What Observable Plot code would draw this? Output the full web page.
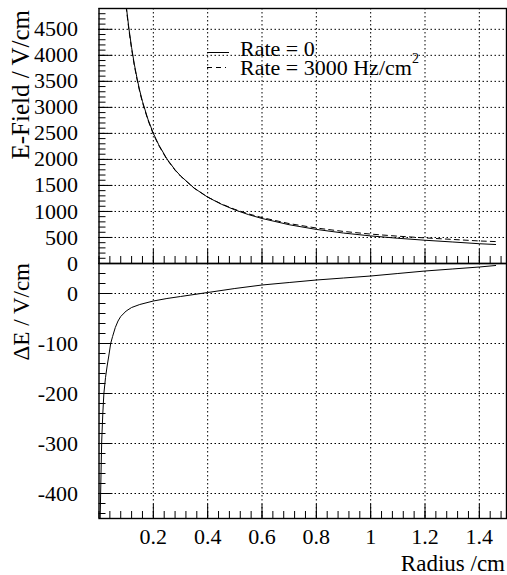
<!DOCTYPE html>
<html>
<head>
<meta charset="utf-8">
<script src="https://cdn.jsdelivr.net/npm/d3@7"></script>
<script src="https://cdn.jsdelivr.net/npm/@observablehq/plot@0.6"></script>
<style>
  html, body { margin: 0; padding: 0; background: #fff; }
  #chart { position: relative; width: 507px; height: 575px; background: #fff; }
  #chart svg { position: absolute; left: 0; top: 0; overflow: visible; }
  #chart svg, #chart svg text { font-family: "Liberation Serif", "Times New Roman", "DejaVu Serif", serif !important; }
</style>
</head>
<body>
<div id="chart"></div>
<script>
// ---- data ----
const radiusTop = [0.09, 0.10, 0.11, 0.12, 0.13, 0.14, 0.15, 0.16, 0.18, 0.20, 0.22, 0.25, 0.28, 0.30, 0.35, 0.40, 0.45, 0.50, 0.55, 0.60, 0.70, 0.80, 0.90, 1.00, 1.10, 1.20, 1.30, 1.40, 1.46];
const fieldRate0 = [5500, 4960, 4520, 4150, 3830, 3560, 3320, 3115, 2775, 2500, 2280, 2010, 1800, 1685, 1450, 1275, 1140, 1030, 940, 865, 745, 655, 585, 530, 485, 447, 414, 380, 365];
const fieldRate3000 = [5460, 4925, 4490, 4122, 3804, 3536, 3298, 3094, 2757, 2485, 2267, 2000, 1792, 1679, 1448, 1277, 1146, 1040, 954, 882, 767, 682, 616, 565, 525, 492, 463, 433, 421];

const radiusBottom = [0.004, 0.006, 0.008, 0.010, 0.014, 0.018, 0.024, 0.030, 0.036, 0.043, 0.05, 0.06, 0.07, 0.08, 0.10, 0.12, 0.15, 0.20, 0.25, 0.30, 0.35, 0.40, 0.50, 0.60, 0.70, 0.80, 0.90, 1.00, 1.10, 1.20, 1.30, 1.40, 1.46];
const deltaE = [-460, -400, -345, -295, -240, -200, -168, -145, -125, -100, -86, -68, -55, -46, -35, -28, -22, -15, -10, -6, -2, 2, 10, 17, 22, 27, 31, 35, 40, 45, 49, 53, 56];

const xMajor = [0.2, 0.4, 0.6, 0.8, 1.0, 1.2, 1.4];
const xMinor = d3.range(0, 1.5001, 0.04).map(v => +v.toFixed(2));
const xTickLabels = ["0.2", "0.4", "0.6", "0.8", "1", "1.2", "1.4"];
const yTopMajor = [0, 500, 1000, 1500, 2000, 2500, 3000, 3500, 4000, 4500];
const yTopMinor = d3.range(0, 4901, 100);
const yBotMajor = [-400, -300, -200, -100, 0];
const yBotMinor = d3.range(-440, 61, 20);

const legendLabels = ["Rate = 0", "Rate = 3000 Hz/cm"];
const titles = {yTop: "E-Field / V/cm", yBot: "\u0394E / V/cm", x: "Radius /cm"};

// ---- tables ----
const topRows = radiusTop.map((r, i) => ({r, e0: fieldRate0[i], e1: fieldRate3000[i]}));
const botRows = radiusBottom.map((r, i) => ({r, d: deltaE[i]}));

const W = 507, H = 575, ML = 98.5, MR = 1;
const innerW = W - ML - MR;
const FONT = "Liberation Serif, Times New Roman, DejaVu Serif, serif";
const font = {fontFamily: FONT, fontSize: "22px", color: "black", background: "transparent", overflow: "visible"};
const grid = {stroke: "black", strokeWidth: 1, strokeDasharray: "1.5,2.5", strokeOpacity: 1};
const plain = d => String(d);

// top panel
const topMT = 8, topMB = H - 263;
const topInnerH = H - topMT - topMB;
const topPanel = Plot.plot({
  width: W, height: H,
  marginTop: topMT, marginBottom: topMB, marginLeft: ML, marginRight: MR,
  style: font,
  x: {domain: [0, 1.5], axis: null},
  y: {domain: [0, 4900], axis: null},
  marks: [
    Plot.ruleX(xMajor, grid),
    Plot.ruleY(yTopMajor.filter(v => v > 0), grid),
    Plot.ruleX(xMinor, {stroke: "black", insetTop: topInnerH - 7}),
    Plot.ruleX(xMajor, {stroke: "black", insetTop: topInnerH - 14}),
    Plot.ruleY(yTopMinor, {stroke: "black", insetRight: innerW - 7}),
    Plot.ruleY(yTopMajor, {stroke: "black", insetRight: innerW - 14}),
    Plot.axisY(yTopMajor, {tickSize: 0, tickPadding: 21, label: null, fontSize: 22, fill: "black", tickFormat: plain}),
    Plot.line(topRows, {x: "r", y: "e1", stroke: "black", strokeWidth: 1, strokeDasharray: "5,4", clip: true}),
    Plot.line(topRows, {x: "r", y: "e0", stroke: "black", strokeWidth: 1, clip: true}),
    Plot.frame({stroke: "black", strokeWidth: 1.4})
  ]
});

// bottom panel
const botMT = 263, botMB = H - 518;
const botInnerH = H - botMT - botMB;
const bottomPanel = Plot.plot({
  width: W, height: H,
  marginTop: botMT, marginBottom: botMB, marginLeft: ML, marginRight: MR,
  style: font,
  x: {domain: [0, 1.5], axis: null},
  y: {domain: [-450, 60], axis: null},
  marks: [
    Plot.ruleX(xMajor, grid),
    Plot.ruleY(yBotMajor, grid),
    Plot.ruleX(xMinor, {stroke: "black", insetTop: botInnerH - 7}),
    Plot.ruleX(xMajor, {stroke: "black", insetTop: botInnerH - 14}),
    Plot.ruleY(yBotMinor, {stroke: "black", insetRight: innerW - 7}),
    Plot.ruleY(yBotMajor, {stroke: "black", insetRight: innerW - 14}),
    Plot.axisY(yBotMajor, {tickSize: 0, tickPadding: 21, label: null, fontSize: 22, fill: "black", tickFormat: plain}),
    Plot.axisX(xMajor, {tickSize: 0, tickPadding: 10, label: null, fontSize: 22, fill: "black", tickFormat: (d, i) => xTickLabels[i]}),
    Plot.line(botRows, {x: "r", y: "d", stroke: "black", strokeWidth: 1, clip: true}),
    Plot.frame({stroke: "black", strokeWidth: 1.4})
  ]
});

const chart = document.getElementById("chart");
chart.appendChild(topPanel);
chart.appendChild(bottomPanel);

// titles and legend (annotation layer)
const ann = d3.select(chart).append("svg")
  .attr("width", W).attr("height", H)
  .attr("font-family", FONT).style("fill", "black");

ann.append("text").text(titles.yTop)
  .attr("transform", "translate(29,10) rotate(-90)")
  .attr("text-anchor", "end").style("font-size", "25px");
ann.append("text").text(titles.yBot)
  .attr("transform", "translate(29,263) rotate(-90)")
  .attr("text-anchor", "end").style("font-size", "23px");
ann.append("text").text(titles.x)
  .attr("x", 505).attr("y", 571)
  .attr("text-anchor", "end").style("font-size", "23px");

// legend
ann.append("line").attr("x1", 207).attr("x2", 229).attr("y1", 52.5).attr("y2", 52.5)
  .attr("stroke", "black").attr("stroke-width", 1);
ann.append("line").attr("x1", 207).attr("x2", 226).attr("y1", 67.5).attr("y2", 67.5)
  .attr("stroke", "black").attr("stroke-width", 1).attr("stroke-dasharray", "5,4");
ann.append("text").text(legendLabels[0]).attr("x", 240).attr("y", 56).style("font-size", "22px");
const t2 = ann.append("text").attr("x", 240).attr("y", 75).style("font-size", "22px");
t2.append("tspan").text(legendLabels[1]);
t2.append("tspan").text("2").attr("dy", -12).style("font-size", "14px");
</script>
</body>
</html>
